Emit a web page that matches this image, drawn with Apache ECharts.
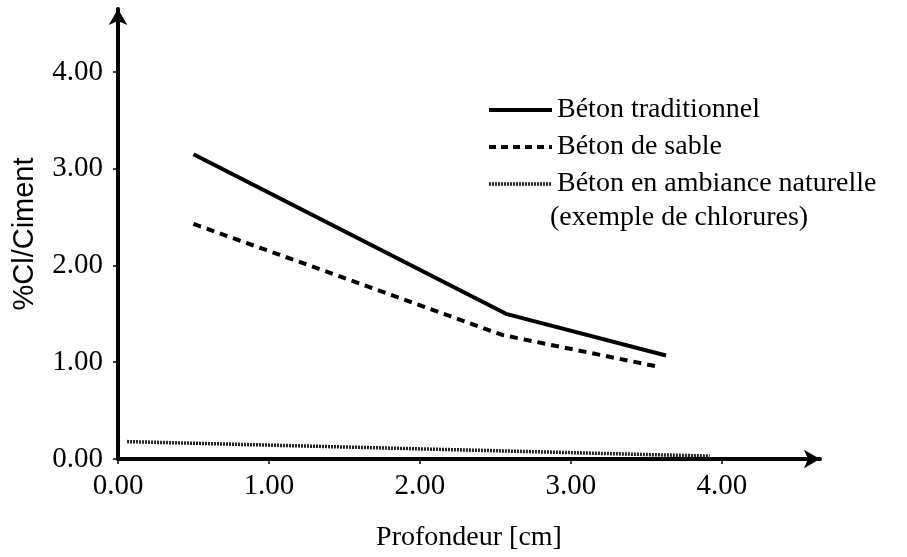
<!DOCTYPE html>
<html>
<head>
<meta charset="utf-8">
<script src="https://cdn.jsdelivr.net/npm/echarts@6/dist/echarts.min.js"></script>
<style>
  html, body { margin: 0; padding: 0; background: #fff; }
  #chart { width: 907px; height: 557px; }
</style>
</head>
<body>
<div id="chart"></div>
<script>
// 数据
var tickValues = [0, 1, 2, 3, 4];
var depthTrad = [0.5, 2.57, 3.63];
var valTrad = [3.15, 1.5, 1.07];
var depthSable = [0.5, 2.55, 3.59];
var valSable = [2.43, 1.28, 0.95];
var depthNat = [0.06, 3.92];
var valNat = [0.18, 0.03];
var names = ["Béton traditionnel", "Béton de sable", "Béton en ambiance naturelle"];
var note = "(exemple de chlorures)";

function pairs(xs, ys) {
  return xs.map(function (x, i) { return [x, ys[i]]; });
}

var serif = "Liberation Serif";
var machart = echarts.init(document.getElementById("chart"));

var axisCommon = {
  type: "value",
  min: 0,
  max: 4.65,
  interval: 1,
  splitLine: { show: false },
  axisLine: {
    show: true,
    symbol: ["none", "arrow"],
    symbolSize: [14, 16],
    lineStyle: { color: "#000", width: 4 },
  },
  axisTick: {
    show: true,
    length: 5,
    customValues: tickValues,
    lineStyle: { color: "#000", width: 1.5 },
  },
};

var option = {
  backgroundColor: "#fff",
  animation: false,
  grid: { left: 118, right: 87, top: 9, bottom: 96, containLabel: false },
  legend: {
    orient: "vertical",
    left: 482,
    top: 91,
    itemWidth: 63,
    itemHeight: 14,
    itemGap: 9,
    itemStyle: { opacity: 0 },
    textStyle: { fontFamily: serif, fontSize: 28, color: "#000" },
    data: [
      { name: names[0], lineStyle: { width: 4 } },
      { name: names[1], lineStyle: { width: 4, type: [7, 5] } },
      { name: names[2], lineStyle: { width: 3.5, type: [2, 1] } },
    ],
  },
  graphic: [
    {
      type: "text",
      left: 550,
      top: 204,
      style: { text: note, font: "28px 'Liberation Serif'", fill: "#000" },
    },
  ],
  xAxis: Object.assign({}, axisCommon, {
    name: "Profondeur [cm]",
    nameLocation: "middle",
    nameGap: 65,
    nameTextStyle: { fontFamily: serif, fontSize: 28, color: "#000" },
    axisLabel: {
      customValues: tickValues,
      margin: 13,
      fontFamily: serif,
      fontSize: 29,
      color: "#000",
      formatter: function (v) { return v.toFixed(2); },
    },
  }),
  yAxis: Object.assign({}, axisCommon, {
    name: "%Cl/Ciment",
    nameLocation: "middle",
    nameGap: 79,
    nameTextStyle: { fontFamily: "Liberation Sans", fontSize: 29, color: "#000" },
    axisLabel: {
      customValues: tickValues,
      margin: 15,
      fontFamily: serif,
      fontSize: 29,
      color: "#000",
      formatter: function (v) { return v.toFixed(2); },
    },
  }),
  series: [
    {
      name: names[0],
      type: "line",
      symbol: "none",
      data: pairs(depthTrad, valTrad),
      lineStyle: { color: "#000", width: 4 },
      itemStyle: { color: "#000" },
    },
    {
      name: names[1],
      type: "line",
      symbol: "none",
      data: pairs(depthSable, valSable),
      lineStyle: { color: "#000", width: 4, type: [8, 6] },
      itemStyle: { color: "#000" },
    },
    {
      name: names[2],
      type: "line",
      symbol: "none",
      data: pairs(depthNat, valNat),
      lineStyle: { color: "#222", width: 3.5, type: [2, 1] },
      itemStyle: { color: "#222" },
    },
  ],
};
machart.setOption(option);
</script>
</body>
</html>
